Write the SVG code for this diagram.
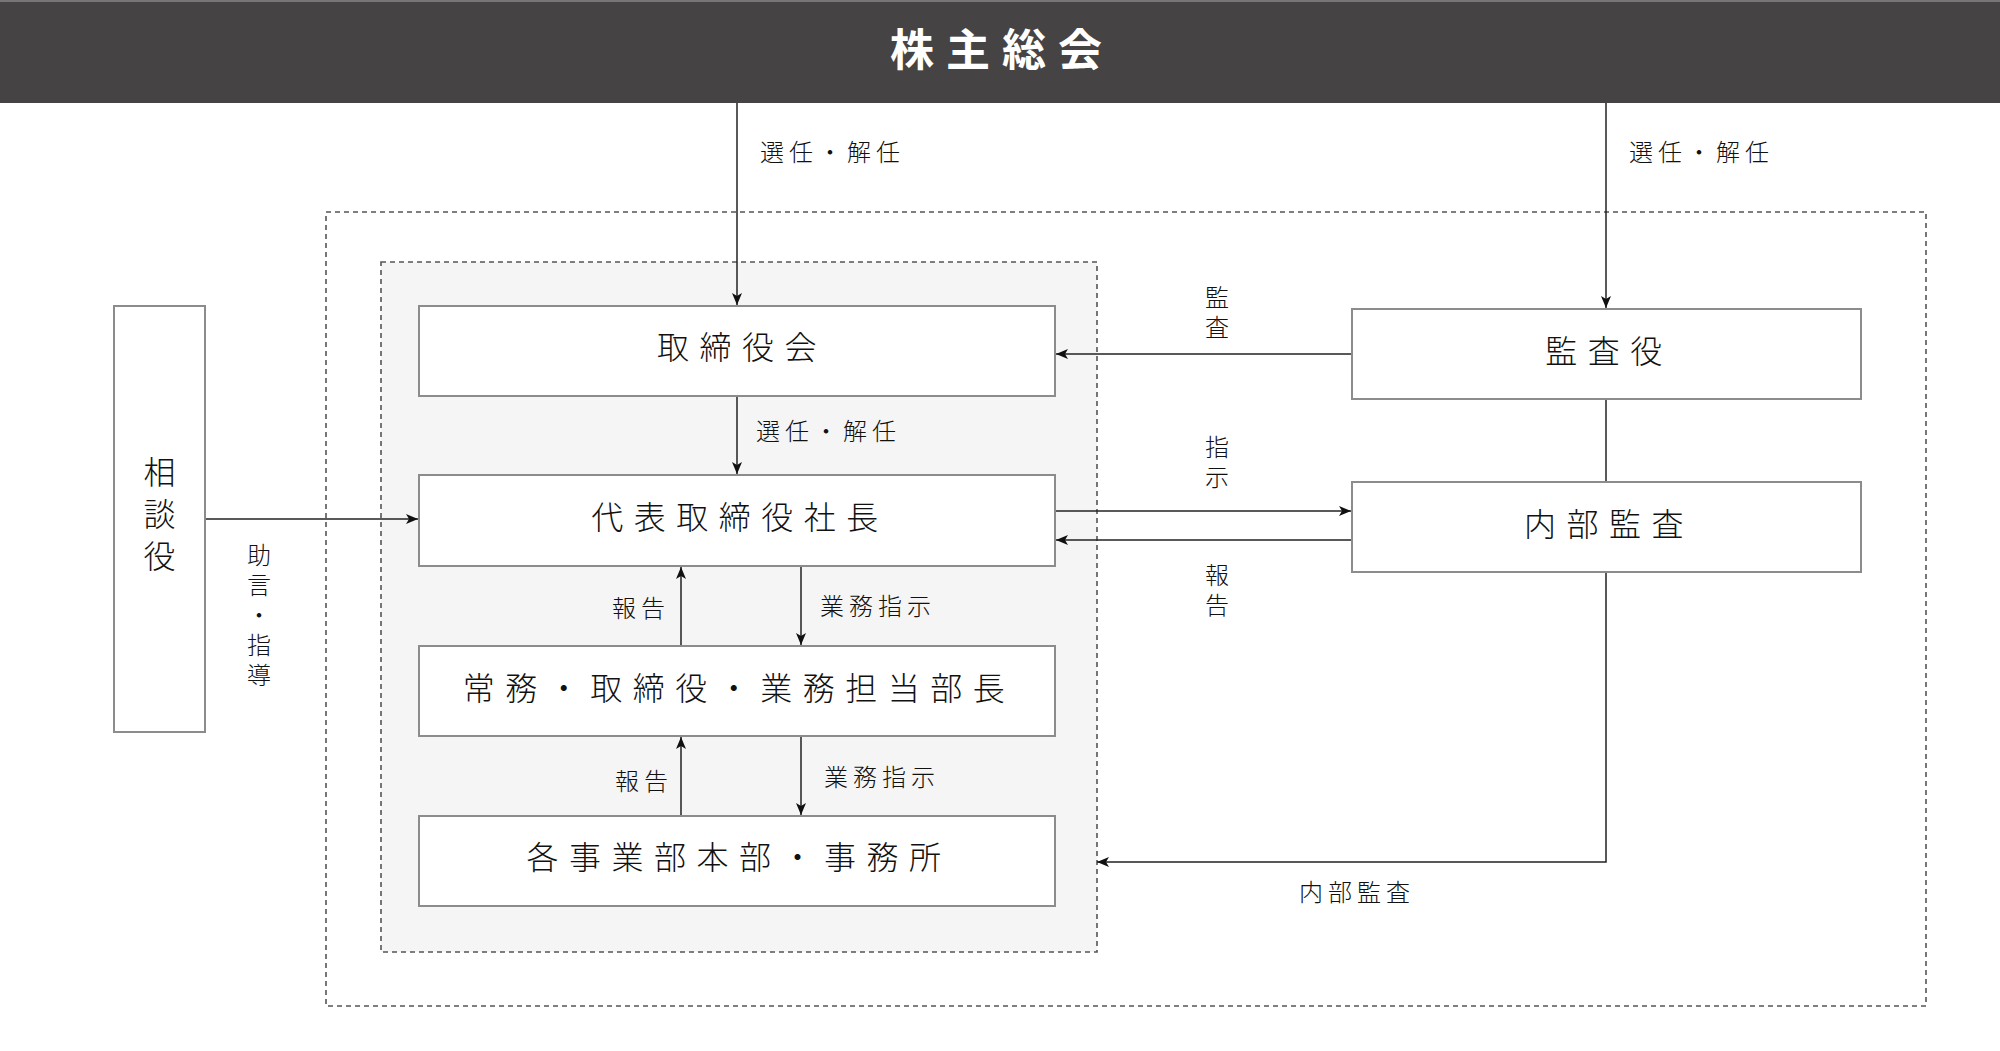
<svg xmlns="http://www.w3.org/2000/svg" width="2000" height="1051" viewBox="0 0 2000 1051">
<defs>
<marker id="arr" viewBox="0 0 12 10" refX="12" refY="5" markerWidth="12" markerHeight="10" markerUnits="userSpaceOnUse" orient="auto">
<path d="M0,0 L12,5 L0,10 L3,5 Z" fill="#111"/>
</marker>
</defs>
<style>
text{font-family:"Noto Sans CJK JP","Noto Sans CJK SC",sans-serif;fill:#111;font-weight:300}
.box{fill:#fff;stroke:#8c8c8c;stroke-width:2}
.bt{font-size:32px;letter-spacing:10.5px;text-anchor:middle;dominant-baseline:central}
.lb{font-size:24px;letter-spacing:5px;dominant-baseline:central}
.vl{font-size:24px;letter-spacing:6px;writing-mode:vertical-rl;text-orientation:upright;text-anchor:start}
.dash{fill:none;stroke:#555;stroke-width:1.6;stroke-dasharray:5 4}
.c{fill:none;stroke:#222;stroke-width:1.5}
.ca{fill:none;stroke:#222;stroke-width:1.5;marker-end:url(#arr)}
</style>
<rect width="2000" height="1051" fill="#fff"/>
<g id="containers">
<rect class="dash" x="326" y="212" width="1600" height="794"/>
<rect class="dash" x="381" y="262" width="716" height="690" style="fill:#f5f5f5"/>
</g>
<g id="shareholders">
<rect x="0" y="0" width="2000" height="103" fill="#454344"/>
<rect x="0" y="0" width="2000" height="2" fill="#777"/>
<text x="1002" y="47" style="font-size:44px;font-weight:bold;letter-spacing:12px;text-anchor:middle;dominant-baseline:central;fill:#fff">株主総会</text>
</g>
<g id="connectors">
<line class="ca" x1="737" y1="103" x2="737" y2="305"/>
<line class="ca" x1="1606" y1="103" x2="1606" y2="308"/>
<line class="ca" x1="737" y1="396" x2="737" y2="474"/>
<line class="ca" x1="205" y1="519" x2="418" y2="519"/>
<line class="ca" x1="1352" y1="354" x2="1056" y2="354"/>
<line class="ca" x1="1055" y1="511" x2="1351" y2="511"/>
<line class="ca" x1="1352" y1="540" x2="1056" y2="540"/>
<line class="ca" x1="681" y1="646" x2="681" y2="567"/>
<line class="ca" x1="801" y1="566" x2="801" y2="645"/>
<line class="ca" x1="681" y1="816" x2="681" y2="737"/>
<line class="ca" x1="801" y1="736" x2="801" y2="815"/>
<line class="c" x1="1606" y1="399" x2="1606" y2="482"/>
<polyline class="ca" points="1606,572 1606,862 1097,862"/>
</g>
<g id="labels">
<text class="lb" x="760" y="150">選任・解任</text>
<text class="lb" x="1629" y="150">選任・解任</text>
<text class="lb" x="756" y="429">選任・解任</text>
<text class="lb" x="612" y="606">報告</text>
<text class="lb" x="820" y="604">業務指示</text>
<text class="lb" x="615" y="779">報告</text>
<text class="lb" x="824" y="775">業務指示</text>
<text class="lb" x="1299" y="890">内部監査</text>
<text class="vl" x="1217" y="285">監査</text>
<text class="vl" x="1217" y="435">指示</text>
<text class="vl" x="1217" y="563">報告</text>
<text class="vl" x="259" y="543">助言・指導</text>
</g>
<g id="soudanyaku">
<rect class="box" x="114" y="306" width="91" height="426"/>
<text class="vl" x="159.5" y="456" style="font-size:32px;letter-spacing:10px">相談役</text>
</g>
<g id="torishimariyakukai">
<rect class="box" x="419" y="306" width="636" height="90"/>
<text class="bt" x="742" y="345">取締役会</text>
</g>
<g id="daihyo">
<rect class="box" x="419" y="475" width="636" height="91"/>
<text class="bt" x="740" y="515">代表取締役社長</text>
</g>
<g id="jomu">
<rect class="box" x="419" y="646" width="636" height="90"/>
<text class="bt" x="739" y="686">常務・取締役・業務担当部長</text>
</g>
<g id="jigyobu">
<rect class="box" x="419" y="816" width="636" height="90"/>
<text class="bt" x="739" y="855">各事業部本部・事務所</text>
</g>
<g id="kansayaku">
<rect class="box" x="1352" y="309" width="509" height="90"/>
<text class="bt" x="1609" y="349">監査役</text>
</g>
<g id="naibukansa">
<rect class="box" x="1352" y="482" width="509" height="90"/>
<text class="bt" x="1609" y="522">内部監査</text>
</g>
</svg>
